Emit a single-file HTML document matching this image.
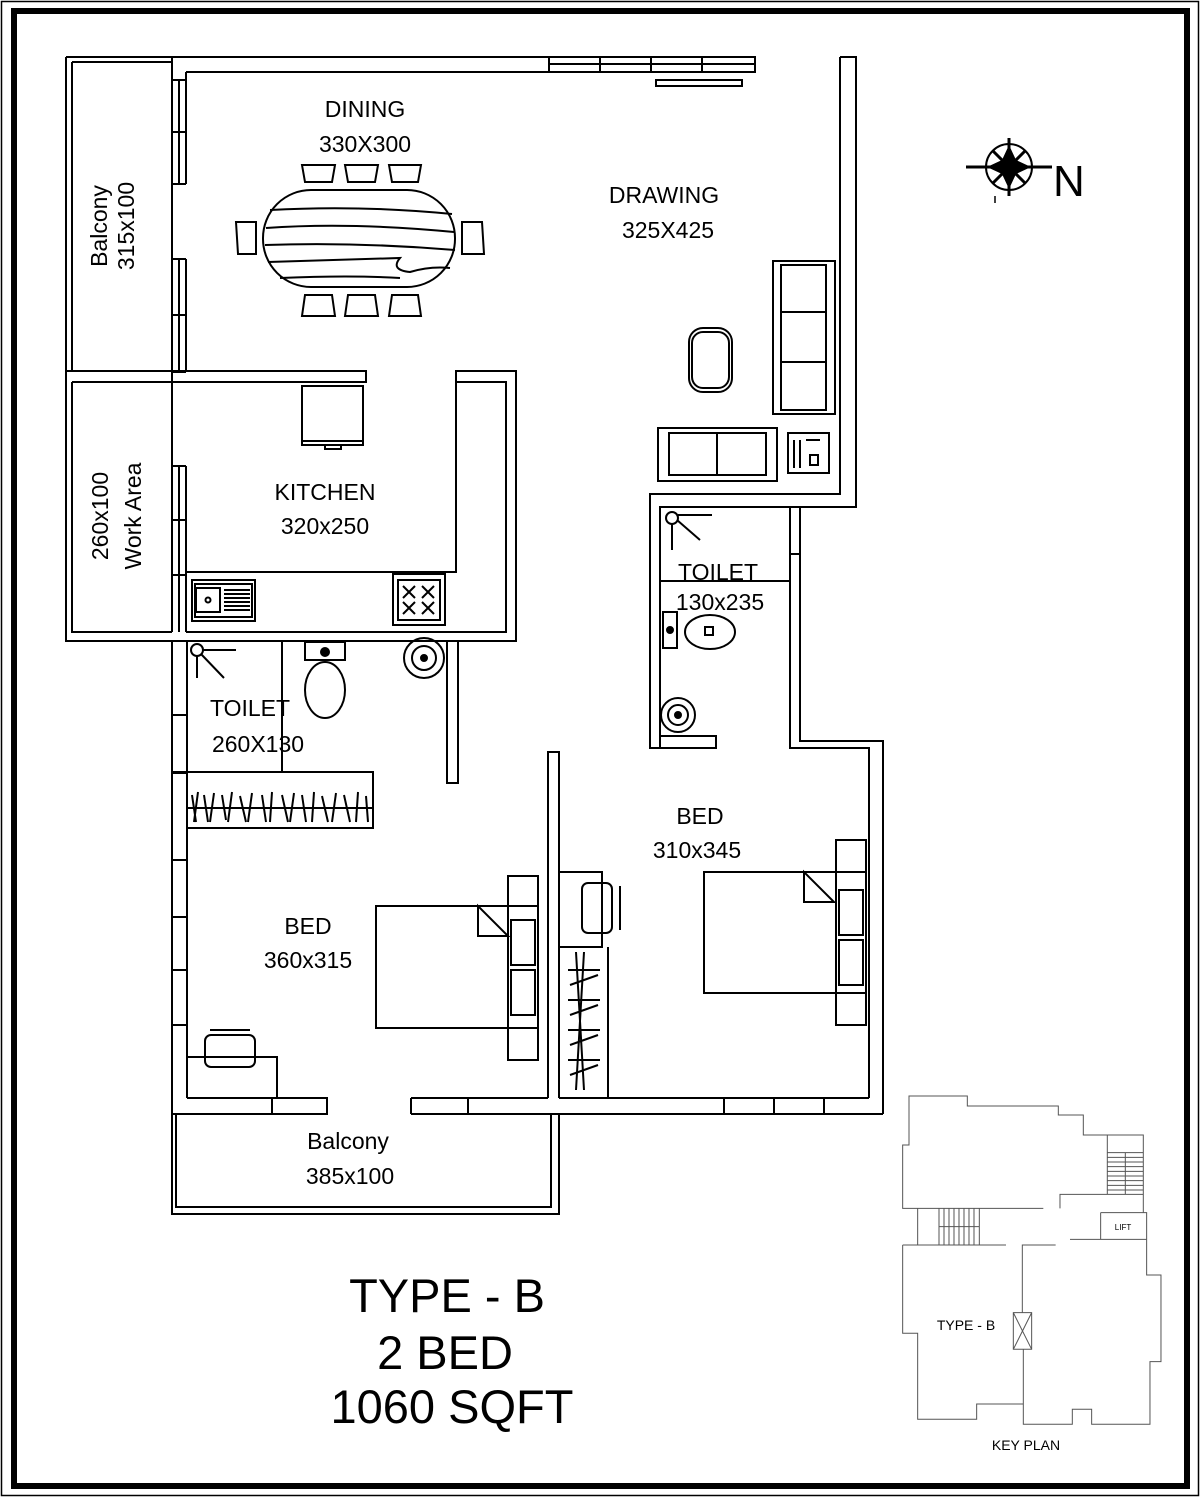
<!DOCTYPE html>
<html><head><meta charset="utf-8"><style>
html,body{margin:0;padding:0;background:#fff}
svg{display:block}
text{font-family:"Liberation Sans",Arial,sans-serif;fill:#000}
</style></head><body>
<svg width="1200" height="1497" viewBox="0 0 1200 1497" xmlns="http://www.w3.org/2000/svg">
<rect x="1.5" y="1.5" width="1197" height="1494" fill="none" stroke="#000" stroke-width="1.5"/>
<rect x="14" y="11" width="1173" height="1475" fill="none" stroke="#000" stroke-width="6"/>

<g fill="none" stroke="#000" stroke-width="2">
<path d="M66,57 V641 H516 V371 H456 V572 H186"/>
<path d="M72,62 H172 M72,62 V371"/>
<path d="M66,57 H172"/>
<path d="M172,57 V382"/>
<path d="M179,80 V184 M186,72 V184 M179,259 V372 M186,259 V372"/>
<path d="M172,80 H186 M172,132 H186 M172,184 H186 M172,259 H186 M172,315 H186 M172,372 H186"/>
<path d="M172,57 H755 V72 H186"/>
<path d="M549,64 H755 M549,57 V72 M600,57 V72 M651,57 V72 M702,57 V72"/>
<path d="M656,80 H742 V86 H656 Z"/>
<path d="M840,57 H856 V507 H660 V748 H650 V494 H840 V57"/>
<path d="M66,371 H366 V382 H72"/>
<path d="M456,371 H516 M456,382 H506 V632 H186"/>
<path d="M72,382 V632 H172 M172,382 V632"/>
<path d="M179,466 V632 M186,466 V632 M172,466 H186 M172,520 H186 M172,575 H186"/>
<path d="M302,386 H363 V445 H302 Z M302,441 H363 M325,445 V449 H341 V445"/>
<path d="M192,580 H255 V621 H192 Z M195,584 H252 V617 H195 Z M196,588 H220 V612 H196 Z"/>
<circle cx="208" cy="600" r="2.5"/>
<path d="M224,590 H250 M224,594 H250 M224,598 H250 M224,602 H250 M224,606 H250 M224,610 H250"/>
<path d="M393,574 H445 V625 H393 Z M398,580 H440 V620 H398 Z"/>
<path d="M403,586 L415,598 M415,586 L403,598 M422,586 L434,598 M434,586 L422,598 M403,602 L415,614 M415,602 L403,614 M422,602 L434,614 M434,602 L422,614"/>
<path d="M172,641 V1214 H559 V1114 M187,641 V1098"/>
<path d="M172,715 H187 M172,773 H187 M172,860 H187 M172,917 H187 M172,970 H187 M172,1025 H187"/>
<path d="M447,641 V783 H458 V641"/>
<path d="M282,641 V772 M172,772 H373 V828 H187 M187,808 H373"/>
<path d="M192,795 L196,822 M198,792 L194,822 M204,795 L208,822 M214,793 L210,822 M222,795 L226,820 M232,792 L228,822 M240,796 L246,822 M252,793 L248,822 M262,795 L266,822 M272,792 L270,822 M282,795 L288,822 M294,793 L290,822 M302,795 L306,822 M314,792 L312,822 M322,796 L328,822 M336,793 L332,822 M344,795 L350,822 M358,792 L356,822 M366,796 L368,822"/>
<circle cx="197" cy="650" r="6"/>
<path d="M201,654 L224,678 M203,650 H236 M197,656 V678"/>
<path d="M305,642 H345 V660 H305 Z"/>
<ellipse cx="325" cy="690" rx="20" ry="28"/>
<circle cx="325" cy="652" r="4" fill="#000"/>
<circle cx="424" cy="658" r="20"/><circle cx="424" cy="658" r="12"/><circle cx="424" cy="658" r="3" fill="#000"/>
<path d="M548,1098 V752 H559 V1098"/>
<path d="M660,736 H716 V748 H650"/>
<path d="M790,507 V748 H869 V1098 M800,507 V741 H883 V1114"/>
<path d="M790,554 H800 M660,581 H790"/>
<circle cx="672" cy="518" r="6"/>
<path d="M677,520 L700,540 M678,515 H712 M672,524 V550"/>
<path d="M663,612 H677 V648 H663 Z"/><ellipse cx="710" cy="632" rx="25" ry="17"/>
<circle cx="670" cy="630" r="3" fill="#000"/><rect x="705" y="627" width="8" height="8"/>
<circle cx="678" cy="715" r="17"/><circle cx="678" cy="715" r="10"/><circle cx="678" cy="715" r="3" fill="#000"/>
<path d="M187,1098 H327 V1114 H172 M272,1098 V1114"/>
<path d="M411,1098 H548 M411,1114 H548 M411,1098 V1114 M468,1098 V1114"/>
<path d="M559,1098 H869 M548,1114 H883 M724,1098 V1114 M774,1098 V1114 M824,1098 V1114"/>
<path d="M176,1114 V1207 H551 V1114"/>
<path d="M376,906 H538 V1028 H376 Z M478,906 V936 H508 Z M508,876 H538 V1060 H508 Z M511,920 H535 V965 H511 Z M511,970 H535 V1015 H511 Z"/>
<path d="M187,1057 H277 V1098"/>
<rect x="205" y="1035" width="50" height="32" rx="6"/>
<path d="M210,1030 H250"/>
<path d="M704,872 H866 V993 H704 Z M804,872 V902 H834 Z M836,840 H866 V1025 H836 Z M839,890 H863 V935 H839 Z M839,940 H863 V985 H839 Z"/>
<path d="M559,872 H602 V947 H559 M608,947 V1098"/>
<rect x="582" y="883" width="30" height="50" rx="6"/>
<path d="M620,886 V930"/>
<path d="M576,952 L584,1090 M584,952 L576,1090 M568,970 H600 M568,1000 H600 M568,1030 H600 M568,1060 H600 M570,985 L598,975 M570,1015 L598,1005 M570,1045 L598,1035 M570,1075 L598,1065"/>
<rect x="263" y="190" width="192" height="97" rx="48"/>
<path d="M270,210 Q360,205 452,214 M266,228 Q350,222 454,232 M265,245 Q360,242 455,250 M268,262 Q330,260 400,258 Q390,270 410,272 Q430,266 450,268 M280,278 Q350,275 400,278"/>
<path d="M302,165 H335 L332,182 H305 Z M345,165 H378 L375,182 H348 Z M389,165 H421 L418,182 H392 Z"/>
<path d="M305,295 H332 L335,316 H302 Z M348,295 H375 L378,316 H345 Z M392,295 H418 L421,316 H389 Z"/>
<path d="M256,222 L256,254 L238,254 L236,222 Z M462,222 H482 L484,254 H462 Z"/>
<path d="M773,261 H835 V414 H773 Z M781,265 H826 V410 H781 Z M781,312 H826 M781,362 H826"/>
<rect x="689" y="328" width="43" height="64" rx="14"/><rect x="692" y="332" width="37" height="56" rx="11"/>
<path d="M658,428 H777 V481 H658 Z M669,433 H766 V475 H669 Z M717,433 V475"/>
<path d="M788,433 H829 V473 H788 Z M794,440 V468 M800,440 V468 M806,440 H820 M810,455 H818 V465 H810 Z"/>
</g>

<g stroke="#000" fill="none" stroke-width="2">
<circle cx="1009" cy="167" r="23"/>
<path d="M966,167 H1052 M1009,138 V196" stroke-width="3"/>
</g>
<path d="M1009,145 L1016,160 L1031,167 L1016,174 L1009,189 L1002,174 L987,167 L1002,160 Z" fill="#000"/>
<path d="M993,151 L1025,183 M1025,151 L993,183" stroke="#000" stroke-width="3"/>
<path d="M995,196 V203" stroke="#000" stroke-width="1.5"/>
<text x="1053" y="196" font-size="44" font-family="'DejaVu Sans',sans-serif">N</text>

<g font-size="23" text-anchor="middle">
<text x="365" y="117">DINING</text>
<text x="365" y="152">330X300</text>
<text x="664" y="203">DRAWING</text>
<text x="668" y="238">325X425</text>
<text x="325" y="500">KITCHEN</text>
<text x="325" y="534">320x250</text>
<text x="718" y="580">TOILET</text>
<text x="720" y="610">130x235</text>
<text x="250" y="716">TOILET</text>
<text x="258" y="752">260X130</text>
<text x="700" y="824">BED</text>
<text x="697" y="858">310x345</text>
<text x="308" y="934">BED</text>
<text x="308" y="968">360x315</text>
<text x="348" y="1149">Balcony</text>
<text x="350" y="1184">385x100</text>
<text transform="translate(107,226) rotate(-90)">Balcony</text>
<text transform="translate(134,226) rotate(-90)">315x100</text>
<text transform="translate(108,516) rotate(-90)">260x100</text>
<text transform="translate(141,516) rotate(-90)">Work Area</text>
</g>
<g font-size="47" text-anchor="middle" font-family="'DejaVu Sans',sans-serif">
<text x="447" y="1312">TYPE - B</text>
<text x="445" y="1369">2 BED</text>
<text x="452" y="1423">1060 SQFT</text>
</g>

<g transform="translate(890,1080) scale(0.3333)" fill="none" stroke="#555" stroke-width="3">
<path d="M460,385 H38 V195 H57 V48 H232 V78 H505 V105 H580 V165 H760 V398"/>
<path d="M510,385 V343 H760 M652,165 V343"/>
<path d="M652,218 H760 M652,232 H760 M652,246 H760 M652,260 H760 M652,274 H760 M652,288 H760 M652,302 H760 M652,316 H760 M652,330 H760 M706,218 V343"/>
<path d="M632,398 H770 V478 M632,398 V478 M540,478 H770"/>
<path d="M83,385 V495 M38,495 H348 M147,385 V495 M162,385 V495 M177,385 V495 M192,385 V495 M207,385 V495 M222,385 V495 M237,385 V495 M252,385 V495 M268,385 V495 M147,440 H268"/>
<path d="M38,495 V760 H83 V1018 H260 V972 H400"/>
<path d="M497,495 H397 V698 M370,698 H425 V808 H370 Z M370,698 L425,808 M425,698 L370,808"/>
<path d="M400,808 V1033 H547 V988 H605 V1033 H780 V845 H813 V585 H770 V478"/>
</g>
<text x="966" y="1330" font-size="14" text-anchor="middle" font-family="'DejaVu Sans',sans-serif">TYPE - B</text>
<text x="1123" y="1230" font-size="8" text-anchor="middle" font-family="'DejaVu Sans',sans-serif">LIFT</text>
<text x="1026" y="1450" font-size="14" text-anchor="middle" font-family="'DejaVu Sans',sans-serif">KEY PLAN</text>
</svg>
</body></html>
